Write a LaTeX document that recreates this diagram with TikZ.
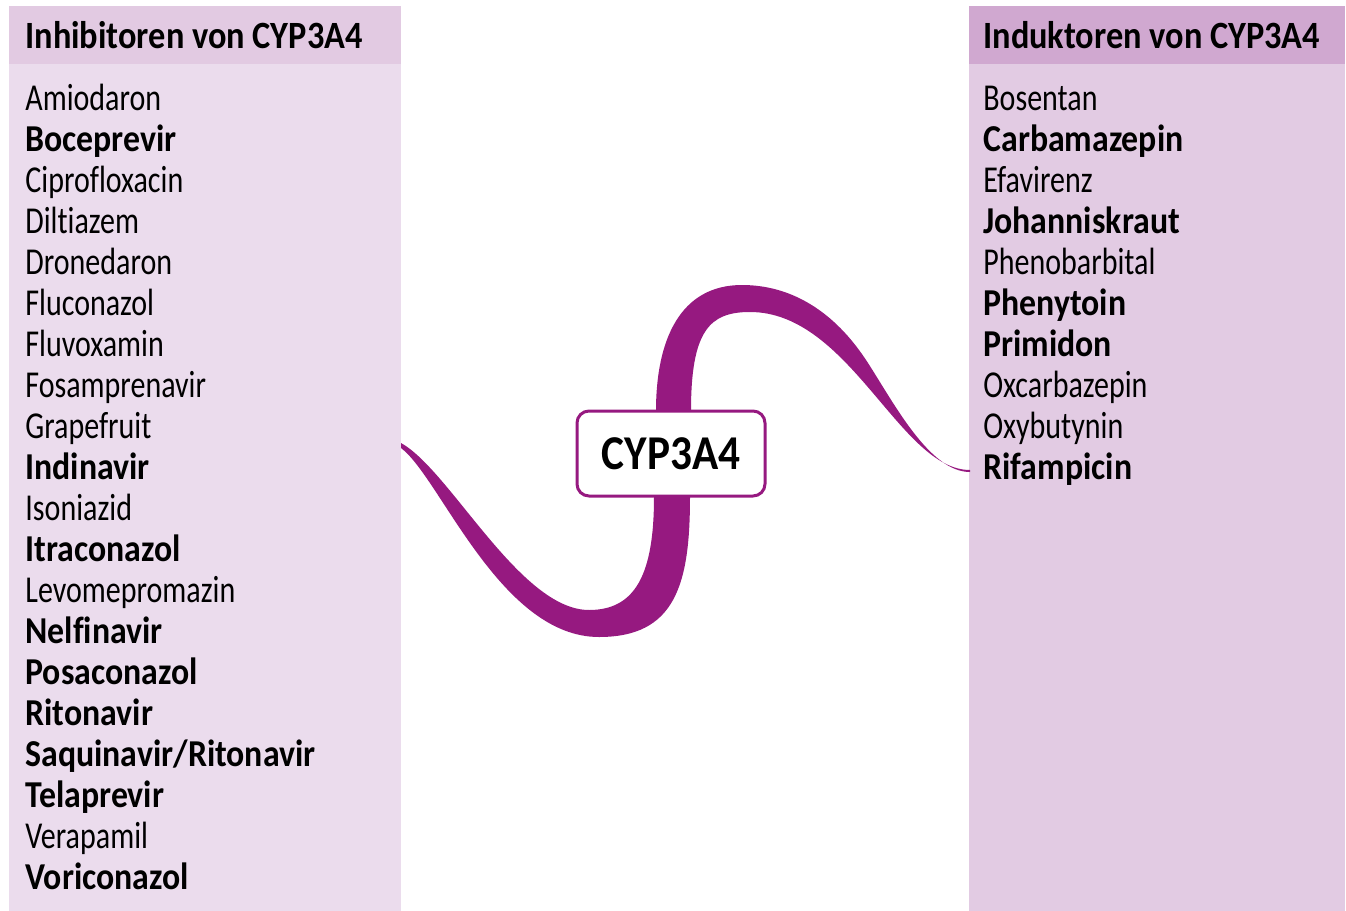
\documentclass[tikz,border=0pt]{standalone}
\usepackage{fontspec}
\setmainfont{Carlito}[Ligatures=NoCommon, UprightFeatures={FakeStretch=0.79}, BoldFeatures={FakeStretch=0.89}]
\definecolor{inhhead}{RGB}{226,202,226}
\definecolor{inhbody}{RGB}{235,220,237}
\definecolor{indhead}{RGB}{208,168,208}
\definecolor{indbody}{RGB}{226,203,227}
\definecolor{cyp}{RGB}{150,25,128}
\begin{document}
\begin{tikzpicture}[x=0.5pt, y=-0.5pt,
  every node/.style={inner sep=0pt, font=\fontsize{19}{20}\selectfont},
  panel/.style={draw=none, anchor=north west},
  head/.style={anchor=base west, font=\fontsize{19.3}{20}\selectfont\bfseries},
  drugn/.style={anchor=base west},
  drugb/.style={anchor=base west, font=\fontsize{19}{20}\selectfont\bfseries},
  hub/.style={draw=cyp, line width=1.5pt, fill=white, rounded corners=6pt, minimum width=94pt, minimum height=42.5pt, font=\fontsize{24.3}{26}\selectfont\bfseries}]
\useasboundingbox (0,0) rectangle (1346,911);
% Inhibitors
\node[panel, fill=inhbody, minimum width=196pt, minimum height=452.5pt] (inh) at (9,6) {};
\node[panel, fill=inhhead, minimum width=196pt, minimum height=29pt] (inhtop) at (9,6) {};
\node[head] (inhtitle) at (25,48) {Inhibitoren von CYP3A4};
\foreach \w/\name [count=\i from 0] in {n/Amiodaron, b/Boceprevir, n/Ciprofloxacin, n/Diltiazem, n/Dronedaron, n/Fluconazol, n/Fluvoxamin, n/Fosamprenavir, n/Grapefruit, b/Indinavir, n/Isoniazid, b/Itraconazol, n/Levomepromazin, b/Nelfinavir, b/Posaconazol, b/Ritonavir, b/{Saquinavir/Ritonavir}, b/Telaprevir, n/Verapamil, b/Voriconazol}
  \node[drug\w] (inh\i) at (25,110+41*\i) {\name};
% Inducers
\node[panel, fill=indbody, minimum width=188pt, minimum height=452.5pt] (ind) at (969,6) {};
\node[panel, fill=indhead, minimum width=188pt, minimum height=29pt] (indtop) at (969,6) {};
\node[head] (indtitle) at (983,48) {Induktoren von CYP3A4};
\foreach \w/\name [count=\i from 0] in {n/Bosentan, b/Carbamazepin, n/Efavirenz, b/Johanniskraut, n/Phenobarbital, b/Phenytoin, b/Primidon, n/Oxcarbazepin, n/Oxybutynin, b/Rifampicin}
  \node[drug\w] (ind\i) at (983,110+41*\i) {\name};
% Ribbon
\coordinate (la) at (401,448); \coordinate (lb) at (401,443);
\coordinate (ra) at (970,470); \coordinate (rb) at (970,472);
\fill[cyp] (la) .. controls (440,477) and (500,637) .. (599,637)
  .. controls (675,637) and (690,585) .. (690,497) -- (691,411)
  .. controls (691,330) and (710,312) .. (750,312)
  .. controls (850,312) and (900,470) .. (ra) -- (rb)
  .. controls (930,472) and (895,405) .. (868,363)
  .. controls (834,310) and (790,285) .. (742,285)
  .. controls (680,285) and (656,340) .. (656,411) -- (654,497)
  .. controls (654,575) and (635,610) .. (589,610)
  .. controls (520,610) and (450,470) .. (lb) -- cycle;
\node[hub] (hub) at (671,453.5) {CYP3A4};
\end{tikzpicture}
\end{document}
